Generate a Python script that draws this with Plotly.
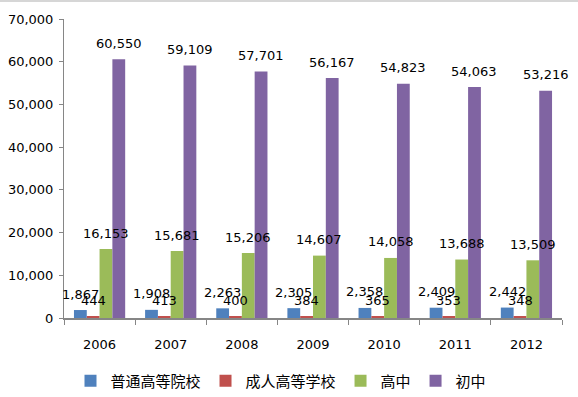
import plotly.graph_objects as go

years = ["2006", "2007", "2008", "2009", "2010", "2011", "2012"]
series_names = ["普通高等院校", "成人高等学校", "高中", "初中"]
putong = [1867, 1908, 2263, 2305, 2358, 2409, 2442]
chengren = [444, 413, 400, 384, 365, 353, 348]
gaozhong = [16153, 15681, 15206, 14607, 14058, 13688, 13509]
chuzhong = [60550, 59109, 57701, 56167, 54823, 54063, 53216]
colors = ["#4F81BD", "#C0504D", "#9BBB59", "#8064A2"]

all_values = [putong, chengren, gaozhong, chuzhong]

W, H = 578, 397
ML, MR, MT, MB = 64, 16, 19, 79
BARGAP = 0.28
plot_w = W - ML - MR
plot_h = H - MT - MB
cat_w = plot_w / len(years)
bar_w = cat_w * (1 - BARGAP) / len(series_names)

NUM_FONT = "DejaVu Sans"

fig = go.Figure()
for name, vals, col in zip(series_names, all_values, colors):
    fig.add_trace(go.Bar(name=name, x=years, y=vals, marker_color=col,
                         marker_line_width=0))

annotations = []
n = len(series_names)
for i, vals in enumerate(all_values):
    shift = (i - (n - 1) / 2) * bar_w
    for j, v in enumerate(vals):
        annotations.append(dict(x=j, y=v, xref="x", yref="y",
                                text=f"{v:,}", showarrow=False,
                                xshift=shift, yshift=16, yanchor="middle",
                                font=dict(family=NUM_FONT, size=13, color="#000000")))

fig.update_layout(
    width=W, height=H, autosize=False,
    margin=dict(l=ML, r=MR, t=MT, b=MB, pad=0, autoexpand=False),
    paper_bgcolor="white", plot_bgcolor="white",
    barmode="group", bargap=BARGAP, bargroupgap=0,
    annotations=annotations,
    showlegend=True,
    legend=dict(orientation="h", xref="container", yref="container",
                x=281 / W, xanchor="center",
                y=1 - 381 / H, yanchor="middle",
                font=dict(family="Noto Sans CJK SC", size=15, color="#000000"),
                itemwidth=30, traceorder="normal", bgcolor="rgba(0,0,0,0)"),
    shapes=[dict(type="line", xref="paper", yref="paper",
                 x0=-ML / plot_w, x1=1 + MR / plot_w,
                 y0=1 + (MT - 1) / plot_h, y1=1 + (MT - 1) / plot_h,
                 line=dict(color="#C8C8C8", width=1.5))],
)

fig.update_yaxes(range=[0, 70000], dtick=10000, tickformat=",",
                 showgrid=False, zeroline=False,
                 showline=True, linecolor="#868686", linewidth=1,
                 ticks="outside", ticklen=4, tickcolor="#868686",
                 ticklabelstandoff=3,
                 tickfont=dict(family=NUM_FONT, size=13, color="#000000"))
fig.update_xaxes(type="category", range=[-0.5, len(years) - 0.5],
                 showgrid=False,
                 showline=True, linecolor="#868686", linewidth=1.5,
                 ticks="outside", tickson="boundaries", ticklen=5,
                 tickcolor="#868686", ticklabelstandoff=14,
                 tickfont=dict(family=NUM_FONT, size=13, color="#000000"))

fig.write_html("out.html", config={"displayModeBar": False},
               post_script="document.body.style.margin='0';")
